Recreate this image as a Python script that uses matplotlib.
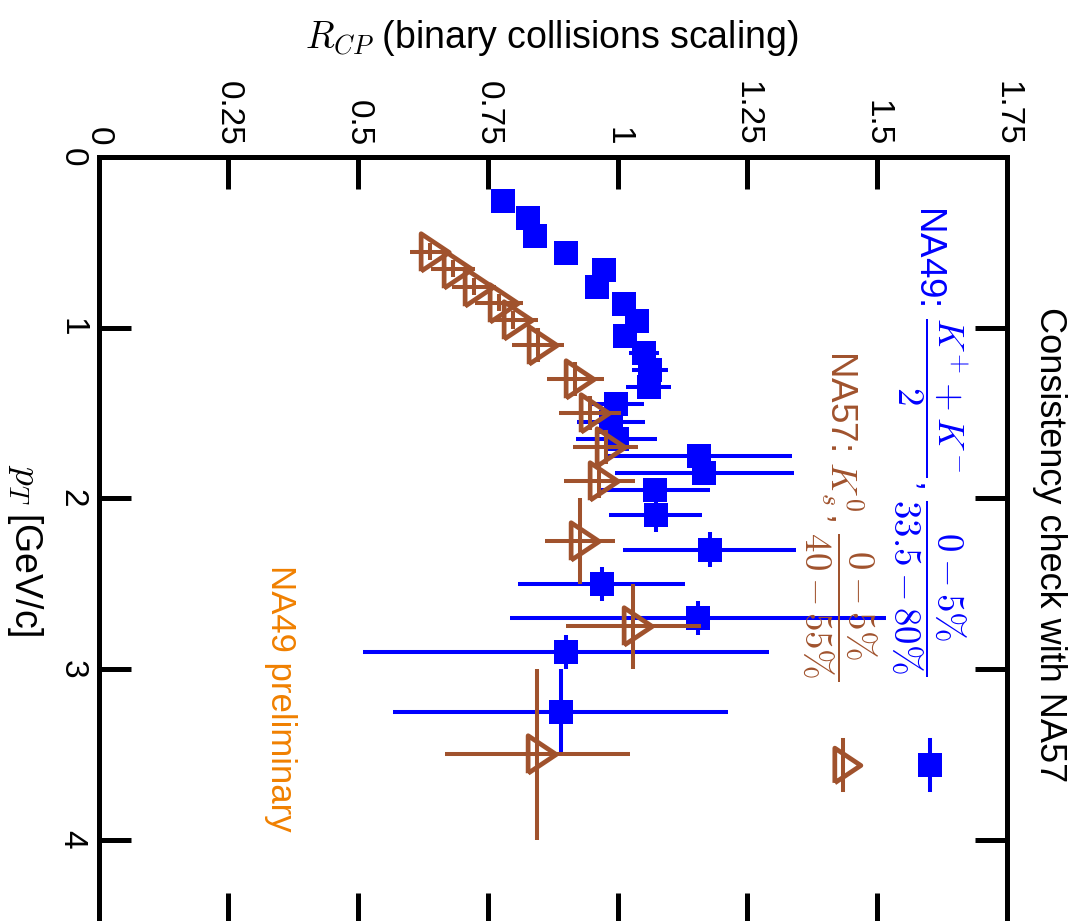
import matplotlib
matplotlib.use('Agg')
import matplotlib.pyplot as plt

plt.rcParams['font.family'] = ['Liberation Sans', 'DejaVu Sans']
plt.rcParams['mathtext.fontset'] = 'cm'

# NA49 (K+ + K-)/2, 0-5% / 33.5-80%
pt_k = [0.26, 0.36, 0.46, 0.56, 0.66, 0.76, 0.86, 0.96, 1.05, 1.15, 1.25, 1.35,
        1.45, 1.55, 1.65, 1.75, 1.85, 1.95, 2.1, 2.3, 2.5, 2.7, 2.9, 3.25]
rcp_k = [0.779, 0.827, 0.840, 0.900, 0.973, 0.960, 1.013, 1.038, 1.015, 1.050, 1.062, 1.060,
         0.996, 0.987, 0.998, 1.156, 1.167, 1.071, 1.073, 1.177, 0.969, 1.154, 0.900, 0.890]
rcp_k_err = [0.01, 0.01, 0.01, 0.01, 0.015, 0.015, 0.02, 0.02, 0.02, 0.029, 0.035, 0.043,
             0.054, 0.066, 0.078, 0.18, 0.172, 0.106, 0.09, 0.166, 0.16, 0.362, 0.391, 0.323]
pt_k_err = [0.05] * 18 + [0.1, 0.1, 0.1, 0.1, 0.1, 0.25]

# NA57 K0s, 0-5% / 40-55%
pt_s = [0.555, 0.655, 0.76, 0.855, 0.955, 1.1, 1.3, 1.5, 1.7, 1.9, 2.25, 2.75, 3.5]
rcp_s = [0.638, 0.683, 0.723, 0.771, 0.799, 0.846, 0.918, 0.947, 0.977, 0.965, 0.927, 1.030, 0.845]
rcp_s_err = [0.038, 0.042, 0.043, 0.046, 0.048, 0.05, 0.055, 0.06, 0.063, 0.068, 0.067, 0.13, 0.178]
pt_s_err = [0.05, 0.05, 0.05, 0.05, 0.05, 0.1, 0.1, 0.1, 0.1, 0.1, 0.25, 0.25, 0.5]

rcp_ticks = [0, 0.25, 0.5, 0.75, 1, 1.25, 1.5, 1.75]
rcp_labels = ['0', '0.25', '0.5', '0.75', '1', '1.25', '1.5', '1.75']
pt_ticks = [0, 1, 2, 3, 4]
pt_labels = ['0', '1', '2', '3', '4']

blue = '#0000ff'
brown = '#a0522d'
orange = '#f08000'
W, H = 1069, 921

fig = plt.figure(figsize=(W / 100, H / 100), dpi=100)
ax = fig.add_axes([98.5 / W, (H - 925) / H, (1007 - 98.5) / W, (925 - 157) / H])

# rotated triangle marker with its centroid at the data point
tri = [(-1, -2), (-1, 2), (2, 0), (-1, -2)]

ax.errorbar(rcp_k, pt_k, xerr=rcp_k_err, yerr=pt_k_err, fmt='s', ms=17.5, mew=0,
            color=blue, ecolor=blue, elinewidth=2.9, capsize=0, zorder=3)
ax.errorbar(rcp_s, pt_s, xerr=rcp_s_err, yerr=pt_s_err, fmt='none',
            ecolor=brown, elinewidth=2.9, capsize=0, zorder=4)
ax.plot(rcp_s, pt_s, ls='none', marker=tri, ms=27, mfc='none', mec=brown, mew=3.4, zorder=5)

ax.set_xlim(0, 1.75)
ax.set_ylim(4.5, 0)
ax.set_xticks(rcp_ticks, rcp_labels, rotation=-90)
ax.set_yticks(pt_ticks, pt_labels, rotation=-90, va='center')
ax.tick_params(axis='both', direction='in', length=23, width=3.6, top=True, bottom=True,
               left=True, right=True, labeltop=True, labelbottom=False, labelsize=24, pad=8)
for s in ax.spines.values():
    s.set_linewidth(3.6)

# legend samples (axes fraction)
for fx, col, mk, ms, fc in [(0.915, blue, 's', 17.5, blue), (0.8195, brown, tri, 25, 'none')]:
    ax.plot([fx, fx], [0.176, 0.241], color=col, lw=2.9, transform=ax.transAxes, clip_on=False, zorder=6)
    ax.plot([fx], [0.208], marker=mk, ms=ms, mfc=fc, mec=col, mew=0 if fc != 'none' else 3.4,
            transform=ax.transAxes, clip_on=False, zorder=7)


def ftext(x, y, s, **kw):
    fig.text(x / W, 1 - y / H, s, **kw)


ftext(552, 38, r'$R_{CP}$ (binary collisions scaling)', ha='center', va='center', fontsize=27)
ftext(25, 550, r'$p_T$ [GeV/c]', ha='center', va='center', rotation=-90, fontsize=27)
ftext(1050, 545, 'Consistency check with NA57', ha='center', va='center', rotation=-90, fontsize=26)
ftext(281, 565, 'NA49 preliminary', ha='center', va='top', rotation=-90, fontsize=25, color=orange)
ftext(930, 205, r'NA49: $\dfrac{K^{+}+K^{-}}{2}$, $\dfrac{0-5\%}{33.5-80\%}$',
      ha='center', va='top', rotation=-90, fontsize=26.5, color=blue)
ftext(840, 350, r'NA57: $K^{0}_{s}$, $\dfrac{0-5\%}{40-55\%}$',
      ha='center', va='top', rotation=-90, fontsize=26.5, color=brown)

fig.savefig('out.png', dpi=100)
